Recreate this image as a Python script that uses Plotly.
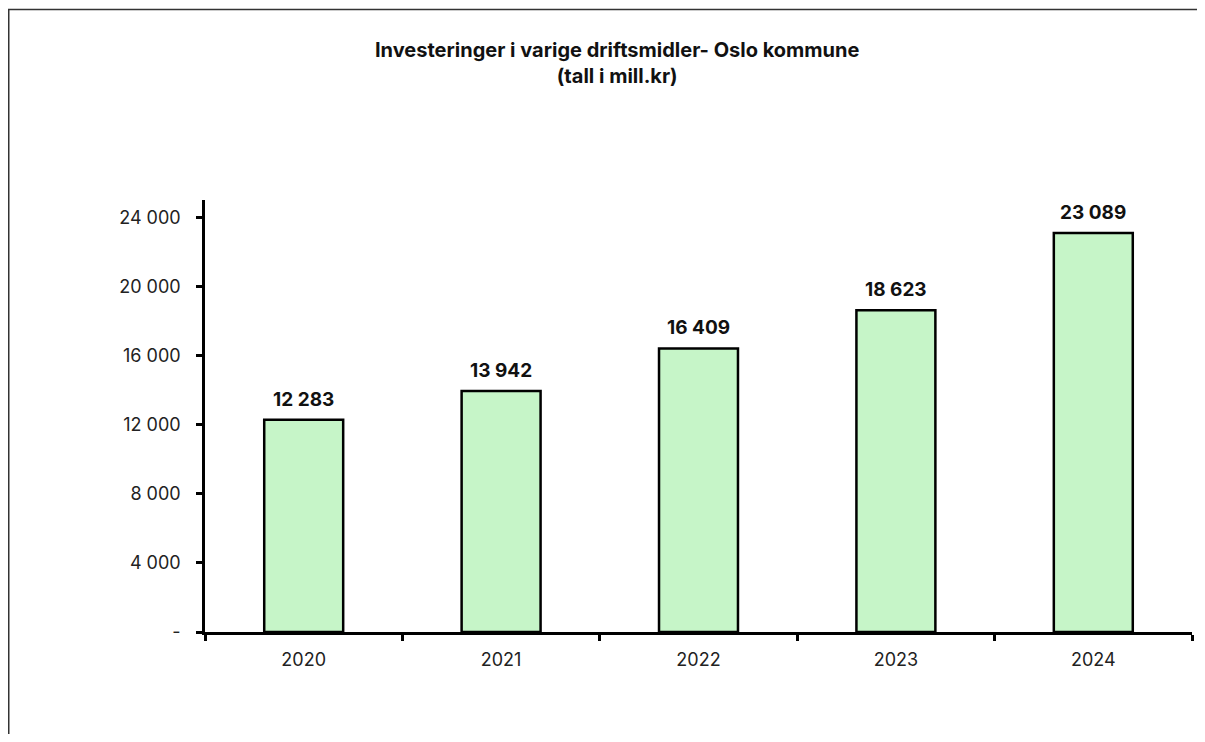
import plotly.graph_objects as go

years = ["2020", "2021", "2022", "2023", "2024"]
values = [12283, 13942, 16409, 18623, 23089]
y_tickvals = [0, 4000, 8000, 12000, 16000, 20000, 24000]
y_ticktext = ["-", "4 000", "8 000", "12 000", "16 000", "20 000", "24 000"]
title_text = "Investeringer i varige driftsmidler- Oslo kommune<br>(tall i mill.kr)"

def fmt(v):
    return f"{v:,}".replace(",", " ")

# page body has an 8px default margin; work in figure coordinates
OFF = 8
FIG_W, FIG_H = 1205 - OFF, 742 - 2 * OFF
# plot area in screen pixels: x 205..1192, y 200..632
L, R, T, B = 205 - OFF, 1192 - OFF, 200 - OFF, 632 - OFF
W, H = R - L, B - T
def px_x(p): return (p - OFF - L) / W
def px_y(p): return (B - (p - OFF)) / H

FONT = "Inter, Roboto, sans-serif"

fig = go.Figure()
fig.add_trace(go.Bar(
    x=years, y=values,
    marker=dict(color="#C6F5C8", line=dict(color="#000000", width=2.5)),
    width=0.40,
    hoverinfo="skip",
))

for i, v in enumerate(values):
    fig.add_annotation(x=i, y=v, xref="x", yref="y", text=fmt(v), showarrow=False,
                       yanchor="bottom", yshift=7,
                       font=dict(family=FONT, size=19, color="#111111", weight="bold"))

fig.add_annotation(xref="paper", yref="paper", x=px_x(617), y=px_y(63.5),
                   text=title_text, showarrow=False, xanchor="center", yanchor="middle",
                   font=dict(family=FONT, size=20, color="#111111", weight="bold"))

# outer frame: left, top and right edges
fig.add_shape(type="line", xref="paper", yref="paper",
              x0=px_x(OFF + 0.75), x1=px_x(OFF + 0.75), y0=px_y(780), y1=px_y(OFF + 1.5),
              line=dict(color="#333333", width=1.5))
fig.add_shape(type="line", xref="paper", yref="paper",
              x0=px_x(OFF), x1=px_x(1204), y0=px_y(OFF + 1.5), y1=px_y(OFF + 1.5),
              line=dict(color="#333333", width=1.5))
fig.add_shape(type="line", xref="paper", yref="paper",
              x0=px_x(1203.5), x1=px_x(1203.5), y0=px_y(780), y1=px_y(OFF + 1.5),
              line=dict(color="#333333", width=1.5))

fig.update_layout(
    width=FIG_W, height=FIG_H,
    margin=dict(l=L, r=FIG_W - R, t=T, b=FIG_H - B, autoexpand=False),
    paper_bgcolor="white", plot_bgcolor="white",
    showlegend=False,
    font=dict(family=FONT, size=18, color="#222222"),
    xaxis=dict(
        type="category", range=[-0.5, len(years) - 0.5],
        showline=True, linecolor="#000000", linewidth=2.5,
        ticks="outside", ticklen=6, tickwidth=2.5, tickcolor="#000000",
        tickson="boundaries", showgrid=False, zeroline=False,
        tickfont=dict(size=18, color="#222222"), ticklabelstandoff=10,
        tickangle=0, automargin=False,
    ),
    yaxis=dict(
        range=[0, 25000], showline=True, linecolor="#000000", linewidth=2.5,
        ticks="outside", ticklen=6, tickwidth=2.5, tickcolor="#000000",
        tickvals=y_tickvals, ticktext=y_ticktext,
        showgrid=False, zeroline=False, automargin=False,
        tickfont=dict(size=18, color="#222222"), ticklabelstandoff=12,
    ),
)

fig.write_html("out.html")
